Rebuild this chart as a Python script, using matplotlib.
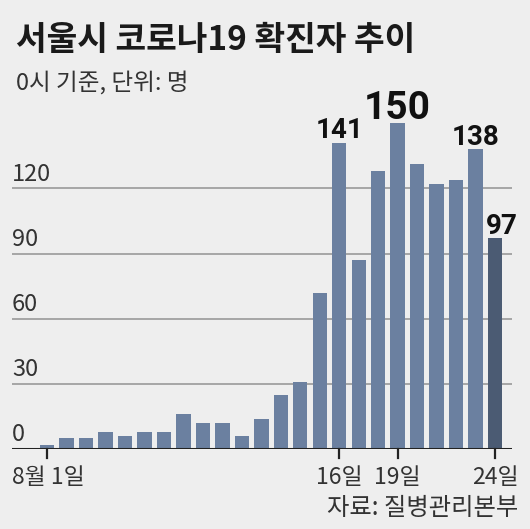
import matplotlib.pyplot as plt

plt.rcParams['font.family'] = ['Noto Sans CJK KR', 'DejaVu Sans']

days = list(range(1, 25))
cases = [2, 5, 5, 8, 6, 8, 8, 16, 12, 12, 6, 14, 25, 31,
         72, 141, 87, 128, 150, 131, 122, 124, 138, 97]
labeled = {16: '141', 19: '150', 23: '138', 24: '97'}
tick_days = [1, 16, 19, 24]
tick_text = ['8월 1일', '16일', '19일', '24일']
grid_vals = [30, 60, 90, 120]

W, H = 530, 529
bg = '#eeeeee'
fig = plt.figure(figsize=(W / 100, H / 100), dpi=100, facecolor=bg)

# axes box in pixels: x 12..512, baseline at 80px from bottom, 2.172 px per case
ax = fig.add_axes([12 / W, 80 / H, 500 / W, (160 * 2.172) / H])
ax.set_facecolor(bg)
ax.set_xlim(-0.8, 24.87)
ax.set_ylim(0, 160)
for s in ax.spines.values():
    s.set_visible(False)
ax.set_xticks([])
ax.set_yticks([])

for v in grid_vals:
    ax.axhline(v, color='#a0a0a0', lw=1.3, zorder=1)
ax.axhline(0, color='#222222', lw=2.2, zorder=3)

colors = ['#6b80a0'] * (len(days) - 1) + ['#4b5b73']
ax.bar(days, cases, width=0.74, color=colors, zorder=2)

for v in [0] + grid_vals:
    ax.text(-0.8, v + 3.6, str(v), ha='left', va='baseline', fontsize=17,
            color='#333333', fontweight='light')

for d in tick_days:
    ax.plot([d, d], [0, -4], color='#222222', lw=1.6, clip_on=False, zorder=3)

for d, t in zip(tick_days, tick_text):
    if d == 1:
        ax.text(-0.8, -13, t, ha='left', va='center', fontsize=16.5,
                color='#333333', fontweight='light')
    else:
        ax.text(d, -13, t, ha='center', va='center', fontsize=16.5,
                color='#333333', fontweight='light')

# value labels over the highlighted bars
for d, t in labeled.items():
    size = 28 if t == '150' else 20
    dx = 0.35 if t == '97' else 0
    ax.text(d + dx, cases[d - 1] + 2, t, ha='center', va='baseline',
            fontsize=size, fontweight='bold', family=['Roboto', 'DejaVu Sans'],
            color='#111111', clip_on=False)

fig.text(16 / W, 1 - 40 / H, '서울시 코로나19 확진자 추이', ha='left', va='center',
         fontsize=24, fontweight='bold', color='#1a1a1a')
fig.text(16 / W, 1 - 83 / H, '0시 기준, 단위: 명', ha='left', va='center',
         fontsize=17, color='#333333', fontweight='light')
fig.text(518 / W, 21 / H, '자료: 질병관리본부', ha='right', va='center',
         fontsize=17.5, color='#333333', fontweight='light')

fig.savefig('out.png', dpi=100, facecolor=bg)
